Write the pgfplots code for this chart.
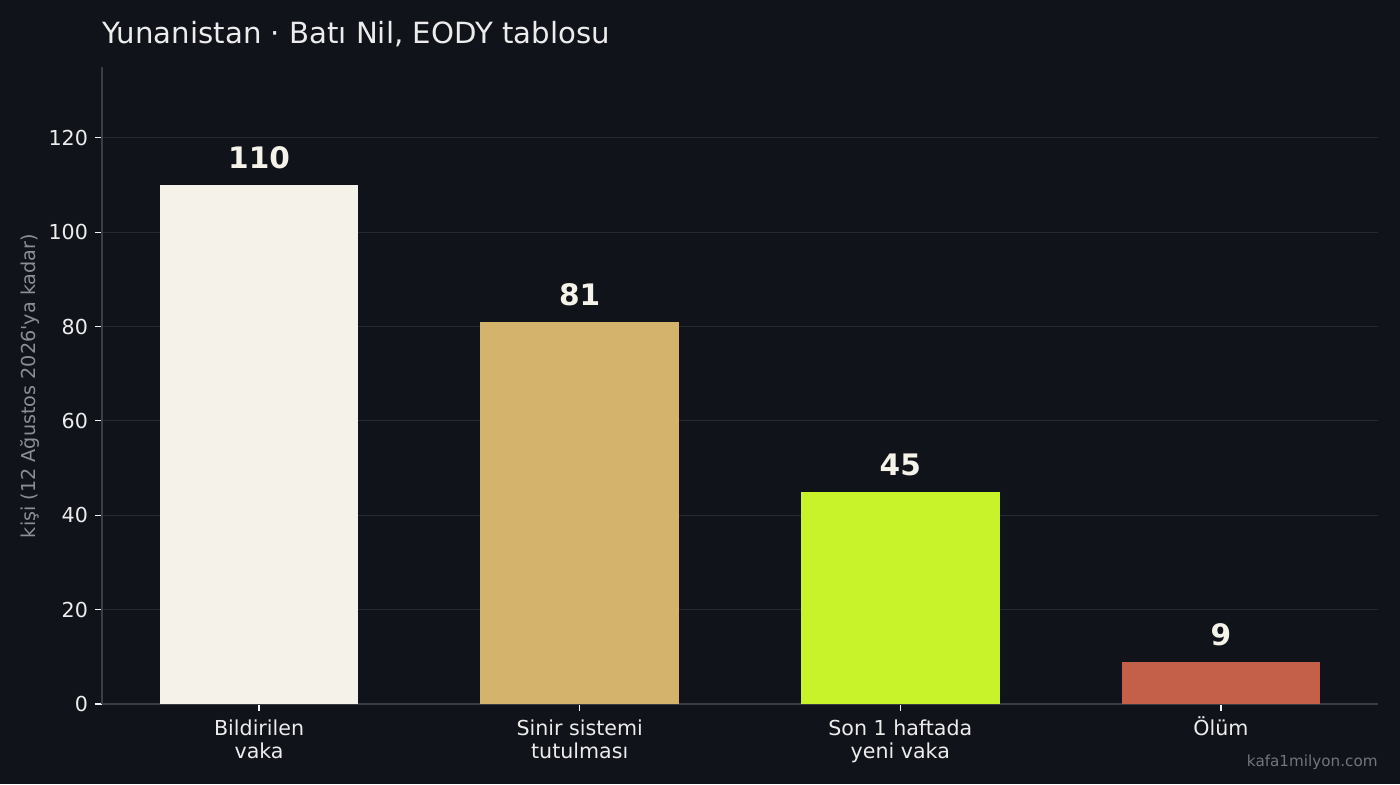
\documentclass[border=0pt]{standalone}
\usepackage{pgfplots}
\pgfplotsset{compat=1.18}
\usepackage{fontspec}
\setmainfont{DejaVu Sans}[Ligatures=TeXOff]
\definecolor{bg}{HTML}{11131A}
\definecolor{gridc}{HTML}{262932}
\definecolor{spine}{HTML}{3A3D45}
\definecolor{txt}{HTML}{ECECEC}
\definecolor{muted}{HTML}{8B8E96}
\definecolor{bar1}{HTML}{F5F2EA}
\definecolor{bar2}{HTML}{D4B36C}
\definecolor{bar3}{HTML}{C8F22A}
\definecolor{bar4}{HTML}{C4604A}

\begin{document}
\begin{tikzpicture}
\fill[bg] (-51pt,-40pt) rectangle (649pt,352pt);
\useasboundingbox (-51pt,-40pt) rectangle (649pt,352pt);
\begin{axis}[
  at={(0,0)}, anchor=south west,
  scale only axis,
  width=638pt, height=318.5pt,
  xmin=-0.49, xmax=3.49,
  ymin=0, ymax=135,
  ytick={0,20,...,120},
  xtick={0,1,2,3},
  xticklabels={{Bildirilen\\vaka},{Sinir sistemi\\tutulması},{Son 1 haftada\\yeni vaka},{\smash{Ö}lüm}},
  xticklabel style={align=center, font=\fontsize{10.3}{11.5}\selectfont, text=txt, yshift=-1pt},
  yticklabel style={font=\fontsize{10.3}{12}\selectfont, text=txt},
  /pgf/number format/assume math mode=true,
  axis x line*=bottom, axis y line*=left,
  axis line style={spine, line width=0.8pt, -},
  tick style={txt!70, line width=0.6pt},
  major tick length=3.5pt,
  tick align=outside,
  ymajorgrids, grid style={gridc, line width=0.6pt},
  every axis plot/.append style={ybar, bar width=0.62, bar shift=0pt, draw=none},
  nodes near coords,
  nodes near coords style={anchor=base, yshift=8pt, text=bar1, font=\fontsize{14.8}{16}\bfseries\selectfont, /pgf/number format/assume math mode=true},
  clip=false,
]
\addplot[fill=bar1] coordinates {(0,110)};
\addplot[fill=bar2] coordinates {(1,81)};
\addplot[fill=bar3] coordinates {(2,45)};
\addplot[fill=bar4] coordinates {(3,9)};
\end{axis}
\node[anchor=base west, text=txt, font=\fontsize{14.6}{17}\selectfont, inner sep=0] at (0pt,330.5pt) {Yunanistan · Batı Nil, EODY tablosu};
\node[rotate=90, text=muted, font=\fontsize{9.6}{12}\selectfont, inner sep=0] at (-36pt,159pt) {kişi (12 Ağustos 2026'ya kadar)};
\node[anchor=base east, text=muted!80!bg, font=\fontsize{7.6}{9}\selectfont, inner sep=0] at (638pt,-31pt) {kafa1milyon.com};
\end{tikzpicture}
\end{document}
